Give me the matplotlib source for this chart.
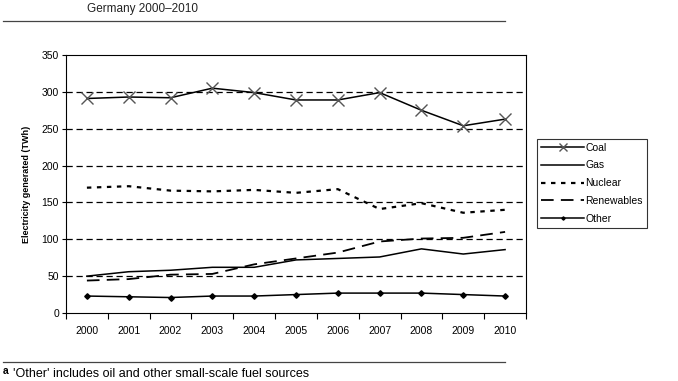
import matplotlib.pyplot as plt
import numpy as np

plt.rcParams['font.family'] = ['Liberation Sans', 'DejaVu Sans']

years = ['2000', '2001', '2002', '2003', '2004', '2005', '2006', '2007', '2008', '2009', '2010']
coal = [291, 293, 292, 305, 299, 289, 289, 299, 275, 254, 263]
gas = [50, 56, 58, 62, 62, 72, 74, 76, 87, 80, 86]
nuclear = [170, 172, 166, 165, 167, 163, 168, 141, 149, 136, 140]
renewables = [44, 46, 52, 53, 66, 74, 82, 97, 101, 102, 110]
other = [23, 22, 21, 23, 23, 25, 27, 27, 27, 25, 23]

fig = plt.figure(figsize=(6.78, 3.81), dpi=100)
ax = fig.add_axes([66 / 678, 1 - 313 / 381, 460 / 678, 258 / 381])

x = np.arange(len(years))
ax.plot(x, coal, color='black', lw=1.1, marker='x', ms=9, mec='#555555', mew=1.0, label='Coal')
ax.plot(x, gas, color='black', lw=1.1, label='Gas')
ax.plot(x, nuclear, color='black', lw=1.6, ls=(0, (2, 2.5)), label='Nuclear')
ax.plot(x, renewables, color='black', lw=1.3, ls=(0, (7, 4)), label='Renewables')
ax.plot(x, other, color='black', lw=1.1, marker='D', ms=2.8, label='Other')

ax.set_ylim(0, 350)
ax.set_xlim(-0.5, 10.5)
ax.set_yticks(range(0, 351, 50))
for v in range(50, 301, 50):
    ax.axhline(v, color='black', lw=0.9, ls=(0, (5, 3)), zorder=0)

ax.set_xticks(x)
ax.set_xticklabels(years, fontsize=7.5)
ax.set_xticks(np.arange(-0.5, 11, 1), minor=True)
ax.tick_params(axis='x', which='major', length=0, pad=9)
ax.tick_params(axis='x', which='minor', length=4, width=0.8)
ax.tick_params(axis='y', labelsize=7.5, length=3, width=0.8, pad=2)
for s in ax.spines.values():
    s.set_linewidth(0.8)
ax.set_ylabel('Electricity generated (TWh)', fontsize=6.5, fontweight='bold', labelpad=8)

leg = ax.legend(loc='upper left', bbox_to_anchor=(537 / 678, 1 - 139 / 381),
                bbox_transform=fig.transFigure, fontsize=7.5, frameon=True,
                fancybox=False, edgecolor='black', handlelength=4.2, markerscale=0.6,
                handletextpad=0.1, labelspacing=0.75, borderpad=0.35, borderaxespad=0)
leg.get_frame().set_linewidth(0.8)

fig.text(87 / 678, 1 - 9 / 381, 'Germany 2000\u20132010', fontsize=8.5, va='center', ha='left', color='#222222')
fig.add_artist(plt.Line2D([3 / 678, 505 / 678], [1 - 21 / 381] * 2, color='#444444', lw=0.9))
fig.add_artist(plt.Line2D([3 / 678, 505 / 678], [1 - 362 / 381] * 2, color='#444444', lw=0.9))
fig.text(3 / 678, 1 - 371 / 381, 'a', fontsize=7.5, fontweight='bold', va='center', ha='left')
fig.text(13 / 678, 1 - 374 / 381, "'Other' includes oil and other small-scale fuel sources",
         fontsize=9, va='center', ha='left')

fig.savefig('out.png', dpi=100)
